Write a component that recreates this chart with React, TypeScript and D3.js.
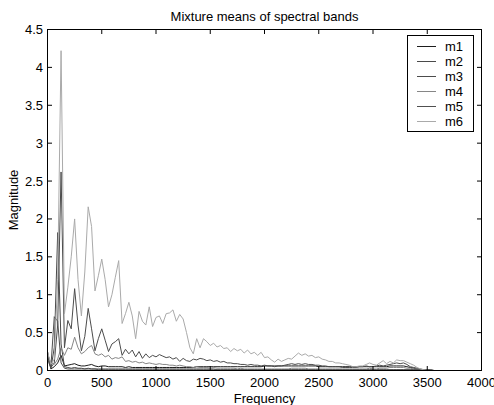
import React from 'react';
import * as d3 from 'd3';

const TITLE = 'Mixture means of spectral bands';
const X_LABEL = 'Frequency';
const Y_LABEL = 'Magnitude';
const BIN_HZ = 31.25;
const SERIES_NAMES = ['m1', 'm2', 'm3', 'm4', 'm5', 'm6'];
const X_TICKS = [0, 500, 1000, 1500, 2000, 2500, 3000, 3500, 4000];
const Y_TICKS = [0, 0.5, 1, 1.5, 2, 2.5, 3, 3.5, 4, 4.5];

const M1 = [
  0.25, 0.02, 0.05, 0.1, 0.2, 0.06, 0.07, 0.08, 0.09, 0.07,
  0.06, 0.06, 0.07, 0.08, 0.06, 0.05, 0.06, 0.06, 0.05, 0.05,
  0.05, 0.05, 0.05, 0.04, 0.05, 0.04, 0.04, 0.04, 0.04, 0.04,
  0.04, 0.04, 0.04, 0.04, 0.04, 0.04, 0.04, 0.04, 0.04, 0.04,
  0.04, 0.04, 0.04, 0.04, 0.05, 0.05, 0.05, 0.05, 0.05, 0.05,
  0.05, 0.05, 0.05, 0.05, 0.05, 0.05, 0.05, 0.05, 0.05, 0.05,
  0.05, 0.05, 0.05, 0.05, 0.06, 0.06, 0.06, 0.06, 0.06, 0.06,
  0.06, 0.06, 0.06, 0.06, 0.06, 0.06, 0.06, 0.06, 0.06, 0.06,
  0.05, 0.05, 0.05, 0.05, 0.05, 0.05, 0.05, 0.05, 0.05, 0.05,
  0.05, 0.05, 0.05, 0.05, 0.05, 0.05, 0.05, 0.05, 0.05, 0.05,
  0.05, 0.06, 0.06, 0.06, 0.06, 0.06, 0.05, 0.04, 0.03, 0.02,
  0.01, 0, 0, 0, 0,
];

const M2 = [
  0.15, 0.03, 0.3, 1.82, 0.35, 0.05, 0.04, 0.03, 0.04, 0.03,
  0.03, 0.02, 0.03, 0.02, 0.02, 0.02, 0.02, 0.02, 0.02, 0.02,
  0.02, 0.02, 0.02, 0.02, 0.02, 0.02, 0.02, 0.02, 0.02, 0.02,
  0.02, 0.02, 0.02, 0.02, 0.02, 0.02, 0.02, 0.02, 0.02, 0.02,
  0.02, 0.02, 0.02, 0.02, 0.02, 0.02, 0.02, 0.02, 0.02, 0.02,
  0.01, 0.01, 0.01, 0.01, 0.01, 0.01, 0.01, 0.01, 0.01, 0.01,
  0.01, 0.01, 0.01, 0.01, 0.01, 0.01, 0.01, 0.01, 0.01, 0.01,
  0.01, 0.01, 0.01, 0.01, 0.01, 0.01, 0.01, 0.01, 0.01, 0.01,
  0.01, 0.01, 0.01, 0.01, 0.01, 0.01, 0.01, 0.01, 0.01, 0.01,
  0.01, 0.01, 0.01, 0.01, 0.01, 0.01, 0.01, 0.01, 0.01, 0.01,
  0.01, 0.01, 0.01, 0.01, 0.01, 0.01, 0.01, 0.01, 0.01, 0.01,
  0.01, 0.01, 0.01, 0.01, 0,
];

const M3 = [
  0.2, 0.04, 0.1, 0.6, 2.62, 0.3, 0.66, 0.55, 1.08, 0.6,
  0.26, 0.45, 0.82, 0.55, 0.26, 0.42, 0.55, 0.4, 0.25, 0.35,
  0.38, 0.42, 0.2, 0.28, 0.22, 0.27, 0.18, 0.25, 0.16, 0.22,
  0.17, 0.2, 0.18, 0.21, 0.19, 0.17, 0.18, 0.15, 0.17, 0.12,
  0.16, 0.13, 0.12, 0.15, 0.14, 0.16, 0.15, 0.13, 0.14, 0.12,
  0.13, 0.11, 0.12, 0.1, 0.1, 0.09, 0.09, 0.08, 0.08, 0.07,
  0.08, 0.07, 0.07, 0.06, 0.07, 0.06, 0.06, 0.05, 0.06, 0.06,
  0.07, 0.08, 0.09, 0.08, 0.09, 0.08, 0.09, 0.08, 0.08, 0.07,
  0.07, 0.06, 0.06, 0.05, 0.05, 0.05, 0.05, 0.04, 0.04, 0.04,
  0.04, 0.04, 0.05, 0.05, 0.06, 0.05, 0.05, 0.06, 0.07, 0.06,
  0.07, 0.08, 0.09, 0.1, 0.09, 0.1, 0.08, 0.05, 0.04, 0.03,
  0.02, 0.01, 0, 0, 0,
];

const M4 = [
  0.22, 0.1, 0.08, 0.15, 0.3, 0.2, 0.3, 0.28, 0.44, 0.3,
  0.22, 0.25, 0.3, 0.33, 0.22, 0.2, 0.22, 0.18, 0.2, 0.15,
  0.17, 0.16, 0.18, 0.12, 0.13, 0.11, 0.12, 0.1, 0.11, 0.09,
  0.1, 0.09, 0.08, 0.09, 0.08, 0.08, 0.07, 0.07, 0.06, 0.07,
  0.06, 0.05, 0.05, 0.04, 0.05, 0.04, 0.04, 0.04, 0.03, 0.04,
  0.03, 0.03, 0.03, 0.03, 0.03, 0.03, 0.02, 0.03, 0.02, 0.02,
  0.02, 0.02, 0.02, 0.02, 0.02, 0.02, 0.02, 0.02, 0.02, 0.02,
  0.02, 0.02, 0.03, 0.03, 0.03, 0.03, 0.03, 0.02, 0.02, 0.02,
  0.02, 0.02, 0.02, 0.02, 0.02, 0.02, 0.02, 0.02, 0.02, 0.02,
  0.02, 0.02, 0.02, 0.02, 0.02, 0.03, 0.02, 0.02, 0.03, 0.03,
  0.03, 0.04, 0.04, 0.04, 0.04, 0.04, 0.03, 0.03, 0.02, 0.02,
  0.01, 0.01, 0, 0, 0,
];

const M5 = [
  0.2, 0.05, 0.71, 0.65, 0.1, 0.03, 0.02, 0.02, 0.02, 0.02,
  0.02, 0.02, 0.02, 0.02, 0.02, 0.01, 0.01, 0.01, 0.01, 0.01,
  0.01, 0.01, 0.01, 0.01, 0.01, 0.01, 0.01, 0.01, 0.01, 0.01,
  0.01, 0.01, 0.01, 0.01, 0.01, 0.01, 0.01, 0.01, 0.01, 0.01,
  0.01, 0.01, 0.01, 0.01, 0.01, 0.01, 0.01, 0.01, 0.01, 0.01,
  0.01, 0.01, 0.01, 0.01, 0.01, 0.01, 0.01, 0.01, 0.01, 0.01,
  0.01, 0.01, 0.01, 0.01, 0.01, 0.01, 0.01, 0.01, 0.01, 0.01,
  0.01, 0.01, 0.01, 0.01, 0.01, 0.01, 0.01, 0.01, 0.01, 0.01,
  0.01, 0.01, 0.01, 0.01, 0.01, 0.01, 0.01, 0.01, 0.01, 0.01,
  0.01, 0.01, 0.01, 0.01, 0.01, 0.01, 0.01, 0.01, 0.01, 0.01,
  0.01, 0.01, 0.01, 0.01, 0.01, 0.01, 0.01, 0.01, 0.01, 0.01,
  0.01, 0.01, 0.01, 0.01, 0,
];

const M6 = [
  0.25, 0.08, 0.15, 1.2, 4.22, 0.75, 1.1, 1.5, 2.0, 1.2,
  0.72, 1.3, 2.16, 1.9, 1.05, 1.25, 1.47, 1.2, 0.84, 1.0,
  1.23, 1.45, 0.62, 0.75, 0.9, 0.72, 0.42, 0.78, 0.65, 0.6,
  0.84, 0.58, 0.7, 0.72, 0.62, 0.75, 0.76, 0.8, 0.65, 0.74,
  0.68, 0.5, 0.3, 0.22, 0.42, 0.3, 0.42, 0.38, 0.33, 0.36,
  0.31, 0.33, 0.29, 0.3, 0.25, 0.29, 0.26, 0.28, 0.23, 0.27,
  0.22, 0.24, 0.2, 0.24, 0.17, 0.18, 0.14, 0.11, 0.15, 0.12,
  0.14, 0.16, 0.15, 0.19, 0.23, 0.2, 0.22, 0.19, 0.2, 0.17,
  0.18, 0.15, 0.14, 0.12, 0.12, 0.1, 0.1, 0.09, 0.08, 0.07,
  0.05, 0.05, 0.06, 0.06, 0.08, 0.1, 0.08, 0.07, 0.1, 0.13,
  0.09, 0.12, 0.1, 0.14, 0.13, 0.13, 0.11, 0.09, 0.07, 0.04,
  0.02, 0.01, 0, 0, 0,
];

const SERIES = [M1, M2, M3, M4, M5, M6];
const COLORS = ['#1d1d1d', '#4a4a4a', '#4c4c4c', '#868686', '#505050', '#aaaaaa'];

const FONT = '"Liberation Sans", Arial, Helvetica, sans-serif';

export default function App() {
  const W = 494;
  const H = 405;
  const left = 47.5;
  const right = 481.5;
  const top = 29.5;
  const bottom = 370.5;
  const fs = 13;
  const tickLen = 4.5;

  const x = d3.scaleLinear().domain([0, 4000]).range([left, right]);
  const y = d3.scaleLinear().domain([0, 4.5]).range([bottom, top]);
  const line = d3
    .line<number>()
    .x((_, i) => x(i * BIN_HZ))
    .y((d) => y(d));

  const legX = 407.5;
  const legY = 35.5;
  const legW = 66;
  const legH = 96;

  return (
    <svg
      width={W}
      height={H}
      style={{ position: 'absolute', left: 0, top: 0, display: 'block', background: '#fff' }}
      fontFamily={FONT}
    >
      <rect x={0} y={0} width={W} height={H} fill="#fff" />
      <text x={(left + right) / 2} y={21} textAnchor="middle" fontSize={fs} fill="#000">
        {TITLE}
      </text>
      <g>
        {SERIES.map((s, k) => (
          <path key={k} d={line(s) || ''} fill="none" stroke={COLORS[k]} strokeWidth={1} />
        ))}
      </g>
      <rect x={left} y={top} width={right - left} height={bottom - top} fill="none" stroke="#000" strokeWidth={1} />
      {X_TICKS.map((t) => (
        <g key={'x' + t}>
          <line x1={x(t)} x2={x(t)} y1={bottom} y2={bottom - tickLen} stroke="#000" />
          <line x1={x(t)} x2={x(t)} y1={top} y2={top + tickLen} stroke="#000" />
          <text x={x(t)} y={387} textAnchor="middle" fontSize={fs} fill="#000">
            {t}
          </text>
        </g>
      ))}
      {Y_TICKS.map((t) => (
        <g key={'y' + t}>
          <line x1={left} x2={left + tickLen} y1={y(t)} y2={y(t)} stroke="#000" />
          <line x1={right} x2={right - tickLen} y1={y(t)} y2={y(t)} stroke="#000" />
          <text x={43} y={y(t) + 4.5} textAnchor="end" fontSize={fs} fill="#000">
            {t}
          </text>
        </g>
      ))}
      <text x={(left + right) / 2} y={403} textAnchor="middle" fontSize={fs} fill="#000">
        {X_LABEL}
      </text>
      <text
        transform={`translate(18, ${(top + bottom) / 2}) rotate(-90)`}
        textAnchor="middle"
        fontSize={fs}
        fill="#000"
      >
        {Y_LABEL}
      </text>
      <g>
        <rect x={legX} y={legY} width={legW} height={legH} fill="#fff" stroke="#000" strokeWidth={1} />
        {SERIES_NAMES.map((n, k) => {
          const ly = legY + 11 + k * 15;
          return (
            <g key={n}>
              <line x1={417} x2={436} y1={ly} y2={ly} stroke={COLORS[k]} strokeWidth={1} />
              <text x={445} y={ly + 4.5} fontSize={fs} fill="#000">
                {n}
              </text>
            </g>
          );
        })}
      </g>
    </svg>
  );
}
